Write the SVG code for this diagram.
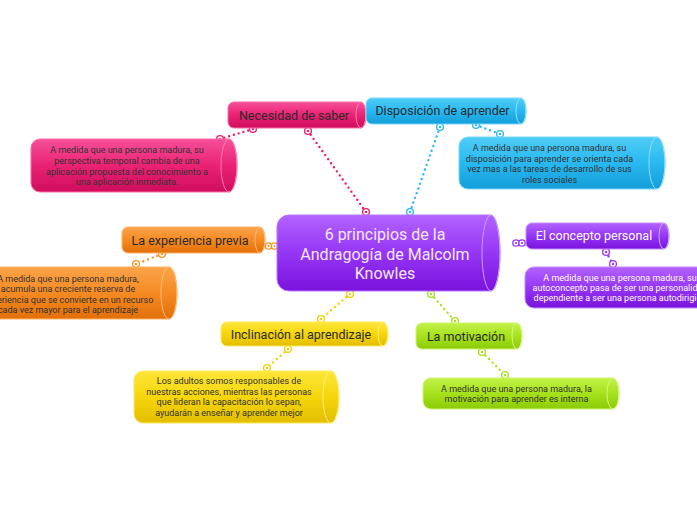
<svg xmlns="http://www.w3.org/2000/svg" width="697" height="520" viewBox="0 0 697 520">
<defs>
<linearGradient id="gPink" x1="0" y1="0" x2="0" y2="1"><stop offset="0" stop-color="#f6509a"/><stop offset="0.5" stop-color="#ea2273"/><stop offset="1" stop-color="#cf0d5c"/></linearGradient>
<linearGradient id="gCyan" x1="0" y1="0" x2="0" y2="1"><stop offset="0" stop-color="#4fcdf7"/><stop offset="0.5" stop-color="#29b8f0"/><stop offset="1" stop-color="#149ed9"/></linearGradient>
<linearGradient id="gOrange" x1="0" y1="0" x2="0" y2="1"><stop offset="0" stop-color="#fba44a"/><stop offset="0.5" stop-color="#f58a23"/><stop offset="1" stop-color="#e2700a"/></linearGradient>
<linearGradient id="gPurple" x1="0" y1="0" x2="0" y2="1"><stop offset="0" stop-color="#b263ff"/><stop offset="0.5" stop-color="#9536f5"/><stop offset="1" stop-color="#7a12dc"/></linearGradient>
<linearGradient id="gYellow" x1="0" y1="0" x2="0" y2="1"><stop offset="0" stop-color="#fde63a"/><stop offset="0.5" stop-color="#f6d60c"/><stop offset="1" stop-color="#e3bd00"/></linearGradient>
<linearGradient id="gGreen" x1="0" y1="0" x2="0" y2="1"><stop offset="0" stop-color="#c2f24a"/><stop offset="0.5" stop-color="#a6e21c"/><stop offset="1" stop-color="#8ccb08"/></linearGradient>
</defs>
<style>
.lbl{font-family:Roboto,"Liberation Sans",sans-serif;font-size:12.5px;fill:#2b2b2b;text-anchor:middle}
.lblw{fill:#ffffff}
.desc{font-family:Roboto,"Liberation Sans",sans-serif;font-size:9px;fill:#333333;text-anchor:middle}
.descw{fill:#ffffff}
.main{font-family:Roboto,"Liberation Sans",sans-serif;font-size:16px;fill:#f4e8ff;text-anchor:middle}
.cap{fill:none;stroke-width:1}
.con{fill:none;stroke-width:2.4;stroke-linecap:round;stroke-dasharray:0 5}
.end{fill:#ffffff;stroke-width:1.3}
.pink{stroke:#ec1a6e}.cyan{stroke:#29b6f6}.orange{stroke:#f7931e}.purple{stroke:#9b30ff}.yellow{stroke:#f2d000}.green{stroke:#a6e01e}
</style>
<rect width="697" height="520" fill="#ffffff"/>

<g id="connectors">
<line class="con pink" x1="366" y1="212" x2="308" y2="131"/>
<line class="con pink" x1="253" y1="129" x2="220" y2="139"/>
<line class="con cyan" x1="410" y1="212" x2="440" y2="127"/>
<line class="con cyan" x1="476" y1="125" x2="500" y2="134"/>
<line class="con orange" x1="269" y1="246" x2="274" y2="246"/>
<line class="con orange" x1="162" y1="254" x2="136" y2="264"/>
<line class="con purple" x1="516" y1="243" x2="522" y2="243"/>
<line class="con purple" x1="606" y1="252" x2="613" y2="264"/>
<line class="con yellow" x1="350" y1="294" x2="321" y2="319"/>
<line class="con yellow" x1="288" y1="349" x2="267" y2="368"/>
<line class="con green" x1="431" y1="294" x2="455" y2="321"/>
<line class="con green" x1="482" y1="352" x2="505" y2="375"/>
<g id="ends">
<circle class="end pink" cx="366" cy="212" r="3.4"/><circle cx="366" cy="212" r="1.2" fill="#ec1a6e"/>
<circle class="end pink" cx="308" cy="131" r="3.4"/><circle cx="308" cy="131" r="1.2" fill="#ec1a6e"/>
<circle class="end pink" cx="253" cy="129" r="3.4"/><circle cx="253" cy="129" r="1.2" fill="#ec1a6e"/>
<circle class="end pink" cx="220" cy="139" r="3.4"/><circle cx="220" cy="139" r="1.2" fill="#ec1a6e"/>
<circle class="end cyan" cx="410" cy="212" r="3.4"/><circle cx="410" cy="212" r="1.2" fill="#29b6f6"/>
<circle class="end cyan" cx="440" cy="127" r="3.4"/><circle cx="440" cy="127" r="1.2" fill="#29b6f6"/>
<circle class="end cyan" cx="476" cy="125" r="3.4"/><circle cx="476" cy="125" r="1.2" fill="#29b6f6"/>
<circle class="end cyan" cx="500" cy="134" r="3.4"/><circle cx="500" cy="134" r="1.2" fill="#29b6f6"/>
<circle class="end orange" cx="268.5" cy="246" r="3.2"/><circle cx="268.5" cy="246" r="1.1" fill="#f7931e"/>
<circle class="end orange" cx="274.5" cy="246" r="3.2"/><circle cx="274.5" cy="246" r="1.1" fill="#f7931e"/>
<circle class="end orange" cx="162" cy="254" r="3.4"/><circle cx="162" cy="254" r="1.2" fill="#f7931e"/>
<circle class="end orange" cx="136" cy="264" r="3.4"/><circle cx="136" cy="264" r="1.2" fill="#f7931e"/>
<circle class="end purple" cx="516" cy="243" r="3.2"/><circle cx="516" cy="243" r="1.1" fill="#9b30ff"/>
<circle class="end purple" cx="522" cy="243" r="3.2"/><circle cx="522" cy="243" r="1.1" fill="#9b30ff"/>
<circle class="end purple" cx="606" cy="252" r="3.4"/><circle cx="606" cy="252" r="1.2" fill="#9b30ff"/>
<circle class="end purple" cx="613" cy="264" r="3.4"/><circle cx="613" cy="264" r="1.2" fill="#9b30ff"/>
<circle class="end yellow" cx="350" cy="294" r="3.4"/><circle cx="350" cy="294" r="1.2" fill="#f2d000"/>
<circle class="end yellow" cx="321" cy="319" r="3.4"/><circle cx="321" cy="319" r="1.2" fill="#f2d000"/>
<circle class="end yellow" cx="288" cy="349" r="3.4"/><circle cx="288" cy="349" r="1.2" fill="#f2d000"/>
<circle class="end yellow" cx="267" cy="368" r="3.4"/><circle cx="267" cy="368" r="1.2" fill="#f2d000"/>
<circle class="end green" cx="431" cy="294" r="3.4"/><circle cx="431" cy="294" r="1.2" fill="#a6e01e"/>
<circle class="end green" cx="455" cy="321" r="3.4"/><circle cx="455" cy="321" r="1.2" fill="#a6e01e"/>
<circle class="end green" cx="482" cy="352" r="3.4"/><circle cx="482" cy="352" r="1.2" fill="#a6e01e"/>
<circle class="end green" cx="505" cy="375" r="3.4"/><circle cx="505" cy="375" r="1.2" fill="#a6e01e"/>
</g>
</g>

<g id="central">
<path d="M289,215 H491 A9,38 0 0 1 491,291 H289 A12,12 0 0 1 277,279 V227 A12,12 0 0 1 289,215 Z" fill="url(#gPurple)" stroke="#b878ff" stroke-width="1"/>
<ellipse class="cap" cx="491" cy="253" rx="9" ry="38" stroke="#c99cff"/>
<text class="main" x="385" y="240">6 principios de la</text>
<text class="main" x="385" y="260">Andragogía de Malcolm</text>
<text class="main" x="385" y="279">Knowles</text>
</g>

<g id="necesidad">
<path d="M234,102 H361 A5,13 0 0 1 361,128 H234 A6,6 0 0 1 228,122 V108 A6,6 0 0 1 234,102 Z" fill="url(#gPink)" stroke="#ff6aa3" stroke-width="1"/>
<ellipse class="cap" cx="361" cy="115" rx="5" ry="13" stroke="#ff7fb0"/>
<text class="lbl" x="294" y="119.5">Necesidad de saber</text>
</g>

<g id="necesidad-desc">
<path d="M40,139 H229 A8,26.5 0 0 1 229,192 H40 A9,9 0 0 1 31,183 V148 A9,9 0 0 1 40,139 Z" fill="url(#gPink)" stroke="#ff6aa3" stroke-width="1"/>
<ellipse class="cap" cx="229" cy="165.5" rx="8" ry="26.5" stroke="#ff7fb0"/>
<text class="desc" x="127" y="153">A medida que una persona madura, su</text>
<text class="desc" x="127" y="164">perspectiva temporal cambia de una</text>
<text class="desc" x="127" y="174.5">aplicación propuesta del conocimiento a</text>
<text class="desc" x="127" y="185">una aplicación inmediata.</text>
</g>

<g id="disposicion">
<path d="M372,98 H521 A5,13 0 0 1 521,124 H372 A6,6 0 0 1 366,118 V104 A6,6 0 0 1 372,98 Z" fill="url(#gCyan)" stroke="#7ad9ff" stroke-width="1"/>
<ellipse class="cap" cx="521" cy="111" rx="5" ry="13" stroke="#8fe0ff"/>
<text class="lbl" x="442.5" y="115">Disposición de aprender</text>
</g>

<g id="disposicion-desc">
<path d="M468,137 H657 A8,26 0 0 1 657,189 H468 A9,9 0 0 1 459,180 V146 A9,9 0 0 1 468,137 Z" fill="url(#gCyan)" stroke="#7ad9ff" stroke-width="1"/>
<ellipse class="cap" cx="657" cy="163" rx="8" ry="26" stroke="#8fe0ff"/>
<text class="desc" x="549.5" y="150.5">A medida que una persona madura, su</text>
<text class="desc" x="549.5" y="161.5">disposición para aprender se orienta cada</text>
<text class="desc" x="549.5" y="172">vez mas a las tareas de desarrollo de sus</text>
<text class="desc" x="549.5" y="182.5">roles sociales</text>
</g>

<g id="experiencia">
<path d="M128,227 H260 A5,13 0 0 1 260,253 H128 A6,6 0 0 1 122,247 V233 A6,6 0 0 1 128,227 Z" fill="url(#gOrange)" stroke="#ffb164" stroke-width="1"/>
<ellipse class="cap" cx="260" cy="240" rx="5" ry="13" stroke="#ffbd7a"/>
<text class="lbl" x="190" y="244.5">La experiencia previa</text>
</g>

<g id="experiencia-desc">
<path d="M-31,267 H169 A8,26 0 0 1 169,319 H-31 A9,9 0 0 1 -40,310 V276 A9,9 0 0 1 -31,267 Z" fill="url(#gOrange)" stroke="#ffb164" stroke-width="1"/>
<ellipse class="cap" cx="169" cy="293" rx="8" ry="26" stroke="#ffbd7a"/>
<text class="desc" x="68" y="281.5">A medida que una persona madura,</text>
<text class="desc" x="68" y="292">acumula una creciente reserva de</text>
<text class="desc" x="68" y="303">experiencia que se convierte en un recurso</text>
<text class="desc" x="68" y="313">cada vez mayor para el aprendizaje</text>
</g>

<g id="concepto">
<path d="M532,223 H664 A5,13 0 0 1 664,249 H532 A6,6 0 0 1 526,243 V229 A6,6 0 0 1 532,223 Z" fill="url(#gPurple)" stroke="#c48cff" stroke-width="1"/>
<ellipse class="cap" cx="664" cy="236" rx="5" ry="13" stroke="#d0a4ff"/>
<text class="lbl lblw" x="594" y="240">El concepto personal</text>
</g>

<g id="concepto-desc">
<path d="M534,267 H747 A7,20.5 0 0 1 747,308 H534 A9,9 0 0 1 525,299 V276 A9,9 0 0 1 534,267 Z" fill="url(#gPurple)" stroke="#c48cff" stroke-width="1"/>
<text class="desc descw" x="620" y="280.5">A medida que una persona madura, su</text>
<text class="desc descw" x="620" y="291">autoconcepto pasa de ser una personalidad</text>
<text class="desc descw" x="620" y="301">dependiente a ser una persona autodirigida</text>
</g>

<g id="inclinacion">
<path d="M227,322 H383 A5,12 0 0 1 383,346 H227 A6,6 0 0 1 221,340 V328 A6,6 0 0 1 227,322 Z" fill="url(#gYellow)" stroke="#ffea5c" stroke-width="1"/>
<ellipse class="cap" cx="383" cy="334" rx="5" ry="12" stroke="#fff07a"/>
<text class="lbl" x="301" y="338.5">Inclinación al aprendizaje</text>
</g>

<g id="inclinacion-desc">
<path d="M143,371 H331 A8,26 0 0 1 331,423 H143 A9,9 0 0 1 134,414 V380 A9,9 0 0 1 143,371 Z" fill="url(#gYellow)" stroke="#ffea5c" stroke-width="1"/>
<ellipse class="cap" cx="331" cy="397" rx="8" ry="26" stroke="#fff07a"/>
<text class="desc" x="229" y="384">Los adultos somos responsables de</text>
<text class="desc" x="229" y="395">nuestras acciones, mientras las personas</text>
<text class="desc" x="229" y="405">que lideran la capacitación lo sepan,</text>
<text class="desc" x="229" y="416">ayudarán a enseñar y aprender mejor</text>
</g>

<g id="motivacion">
<path d="M422,323 H517 A5,13 0 0 1 517,349 H422 A6,6 0 0 1 416,343 V329 A6,6 0 0 1 422,323 Z" fill="url(#gGreen)" stroke="#cdf56c" stroke-width="1"/>
<ellipse class="cap" cx="517" cy="336" rx="5" ry="13" stroke="#d6f884"/>
<text class="lbl" x="466" y="340.5">La motivación</text>
</g>

<g id="motivacion-desc">
<path d="M431,378 H613 A6,15.5 0 0 1 613,409 H431 A8,8 0 0 1 423,401 V386 A8,8 0 0 1 431,378 Z" fill="url(#gGreen)" stroke="#cdf56c" stroke-width="1"/>
<ellipse class="cap" cx="613" cy="393.5" rx="6" ry="15.5" stroke="#d6f884"/>
<text class="desc" x="516.5" y="391.5">A medida que una persona madura, la</text>
<text class="desc" x="516.5" y="402">motivación para aprender es interna</text>
</g>
</svg>
